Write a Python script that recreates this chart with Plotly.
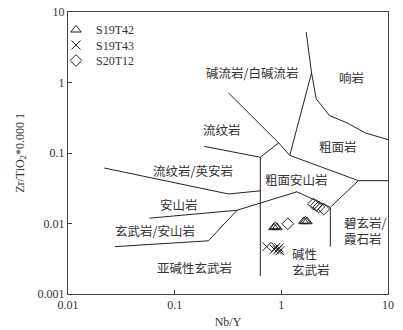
import math
import plotly.graph_objects as go

# sample points (Nb/Y, Zr/TiO2*0.0001)
s42_x = [0.85, 0.88, 0.91, 1.62, 1.68, 1.74]
s42_y = [0.0088, 0.0091, 0.0088, 0.0107, 0.0109, 0.0107]
s43_x = [0.73, 0.86, 0.89, 0.92, 0.95, 0.97]
s43_y = [0.0047, 0.0043, 0.0046, 0.0042, 0.0045, 0.0041]
s20_x = [1.15, 2.0, 2.12, 2.25, 2.5]
s20_y = [0.0099, 0.0189, 0.0180, 0.0172, 0.0160]

# field boundaries of the Winchester & Floyd diagram
boundaries = [
    [(1.71, 5.2), (1.92, 1.37), (2.12, 0.59), (2.82, 0.34), (4.14, 0.267), (6.15, 0.192), (10, 0.155)],
    [(1.92, 1.37), (1.20, 0.0925)],
    [(0.32, 0.71), (0.944, 0.139), (1.20, 0.0925), (5.28, 0.0405), (10, 0.0405)],
    [(0.19, 0.124), (0.635, 0.087), (0.944, 0.139)],
    [(0.635, 0.087), (0.635, 0.00181)],
    [(0.0219, 0.0612), (0.32, 0.0262), (0.635, 0.0291)],
    [(0.058, 0.0119), (0.384, 0.0154), (1.40, 0.0282), (2.88, 0.0170), (5.28, 0.0405)],
    [(2.88, 0.0170), (2.88, 0.0047)],
    [(0.0276, 0.0047), (0.207, 0.00568), (0.384, 0.0154)],
]

field_names = ["碱流岩/白碱流岩", "响岩", "流纹岩", "粗面岩", "流纹岩/英安岩", "粗面安山岩",
               "安山岩", "玄武岩/安山岩", "亚碱性玄武岩", "碱性<br>玄武岩", "碧玄岩/<br>霞石岩"]
field_x = [0.53, 4.5, 0.277, 3.38, 0.150, 1.40, 0.109, 0.0656, 0.155, 1.216, 3.71]
field_y = [1.40, 1.19, 0.214, 0.124, 0.0561, 0.0418, 0.0185, 0.0080, 0.00235, 0.0029, 0.0079]
field_anchor = ["center"] * 9 + ["left", "left"]

fig = go.Figure()

for b in boundaries:
    fig.add_trace(go.Scatter(x=[p[0] for p in b], y=[p[1] for p in b], mode="lines",
                             line=dict(color="#222", width=1), showlegend=False, hoverinfo="skip"))

# one legend per sample so the rows can sit close together like the original
fig.add_trace(go.Scatter(x=s42_x, y=s42_y, mode="markers", name="S19T42", legend="legend",
                         marker=dict(symbol="triangle-up-open", size=9, color="#222", line=dict(width=1))))
fig.add_trace(go.Scatter(x=s43_x, y=s43_y, mode="markers", name="S19T43", legend="legend2",
                         marker=dict(symbol="x-thin-open", size=9, color="#222", line=dict(width=1, color="#222"))))
fig.add_trace(go.Scatter(x=s20_x, y=s20_y, mode="markers", name="S20T12", legend="legend3",
                         marker=dict(symbol="diamond-open", size=9, color="#222", line=dict(width=1))))

# annotations on log axes take log10 positions
for name, x, y, a in zip(field_names, field_x, field_y, field_anchor):
    fig.add_annotation(x=math.log10(x), y=math.log10(y), xref="x", yref="y", text=name,
                       showarrow=False, xanchor=a, align="left",
                       font=dict(family="Noto Sans CJK SC", size=12.5, color="#333"))

fig.update_xaxes(type="log", range=[-2, 1], tickvals=[0.01, 0.1, 1, 10], ticktext=["0.01", "0.1", "1", "10"],
                 showline=True, mirror=True, linecolor="#444", linewidth=1, ticks="inside", ticklen=4,
                 tickcolor="#444", showgrid=False, zeroline=False, automargin=False,
                 title=dict(text="Nb/Y", standoff=6, font=dict(size=12)))
fig.update_yaxes(type="log", range=[-3, 1], tickvals=[0.001, 0.01, 0.1, 1, 10],
                 ticktext=["0.001", "0.01", "0.1", "1", "10"],
                 showline=True, mirror=True, linecolor="#444", linewidth=1, ticks="inside", ticklen=4,
                 tickcolor="#444", showgrid=False, zeroline=False, automargin=False,
                 title=dict(text="Zr/TiO<sub>2</sub>*0.000 1", standoff=10, font=dict(size=12)))

leg = dict(x=-0.0375, xanchor="left", yanchor="middle", bgcolor="rgba(0,0,0,0)",
           font=dict(size=12), itemwidth=30)
fig.update_layout(width=403, height=330, margin=dict(l=68, r=15, t=12, b=36),
                  plot_bgcolor="white", paper_bgcolor="white",
                  font=dict(family="Liberation Serif", size=12, color="#333"),
                  legend=dict(leg, y=0.937), legend2=dict(leg, y=0.883), legend3=dict(leg, y=0.828))

fig.write_html("out.html", config={"displayModeBar": False},
               post_script="document.body.style.margin='0';")
